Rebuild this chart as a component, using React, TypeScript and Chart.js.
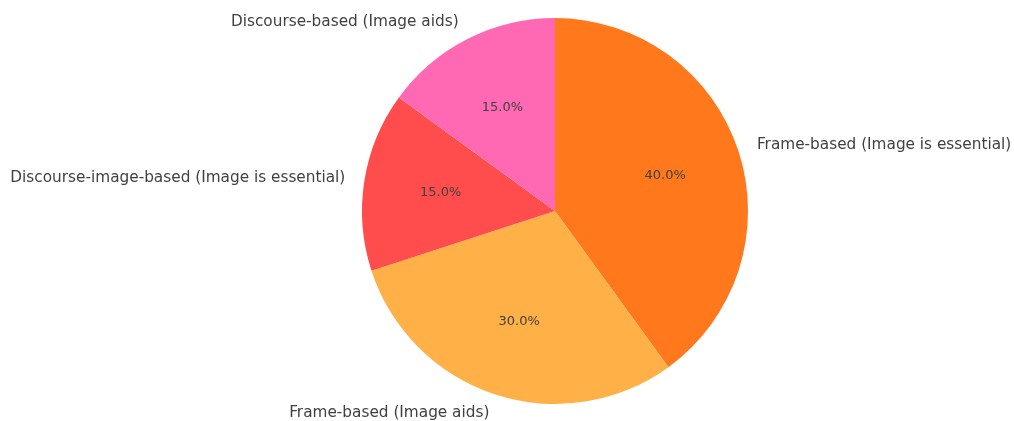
import React, { useEffect, useRef } from "react";
import { Chart, registerables } from "chart.js";

Chart.register(...registerables);

const categories = [
  "Frame-based (Image is essential)",
  "Frame-based (Image aids)",
  "Discourse-image-based (Image is essential)",
  "Discourse-based (Image aids)",
];
const values = [40, 30, 15, 15];
const colors = ["#FF781C", "#FFB047", "#FF4D4D", "#FF69B4"];

const labelPlugin = {
  id: "pieLabels",
  afterDraw(chart: any) {
    const ctx = chart.ctx;
    const meta = chart.getDatasetMeta(0);
    const total = values.reduce((a, b) => a + b, 0);
    ctx.save();
    ctx.fillStyle = "#404040";
    meta.data.forEach((arc: any, i: number) => {
      const p = arc.getProps(["x", "y", "startAngle", "endAngle", "outerRadius"], true);
      const mid = (p.startAngle + p.endAngle) / 2;
      const cos = Math.cos(mid);
      const sin = Math.sin(mid);
      // outer label
      ctx.font = "15.3px 'DejaVu Sans'";
      ctx.textBaseline = "middle";
      ctx.textAlign = cos > 0.001 ? "left" : cos < -0.001 ? "right" : "center";
      ctx.fillText(categories[i], p.x + cos * p.outerRadius * 1.1, p.y + sin * p.outerRadius * 1.1);
      // percent label
      ctx.font = "13px 'DejaVu Sans'";
      ctx.textAlign = "center";
      const pct = ((values[i] / total) * 100).toFixed(1) + "%";
      ctx.fillText(pct, p.x + cos * p.outerRadius * 0.6, p.y + sin * p.outerRadius * 0.6);
    });
    ctx.restore();
  },
};

export default function App() {
  const ref = useRef<HTMLCanvasElement | null>(null);
  useEffect(() => {
    if (!ref.current) return;
    const chart = new Chart(ref.current, {
      type: "pie",
      data: {
        labels: categories,
        datasets: [
          {
            data: values,
            backgroundColor: colors,
            borderWidth: 0,
          },
        ],
      },
      options: {
        animation: false,
        responsive: false,
        maintainAspectRatio: false,
        layout: { padding: { left: 362, right: 266, top: 18, bottom: 17 } },
        plugins: {
          legend: { display: false },
          tooltip: { enabled: false },
        },
      },
      plugins: [labelPlugin],
    });
    return () => chart.destroy();
  }, []);
  return (
    <div style={{ position: "absolute", left: 0, top: 0, width: 1014, height: 421, background: "#fff" }}>
      <canvas ref={ref} width={1014} height={421} style={{ width: 1014, height: 421 }} />
    </div>
  );
}
